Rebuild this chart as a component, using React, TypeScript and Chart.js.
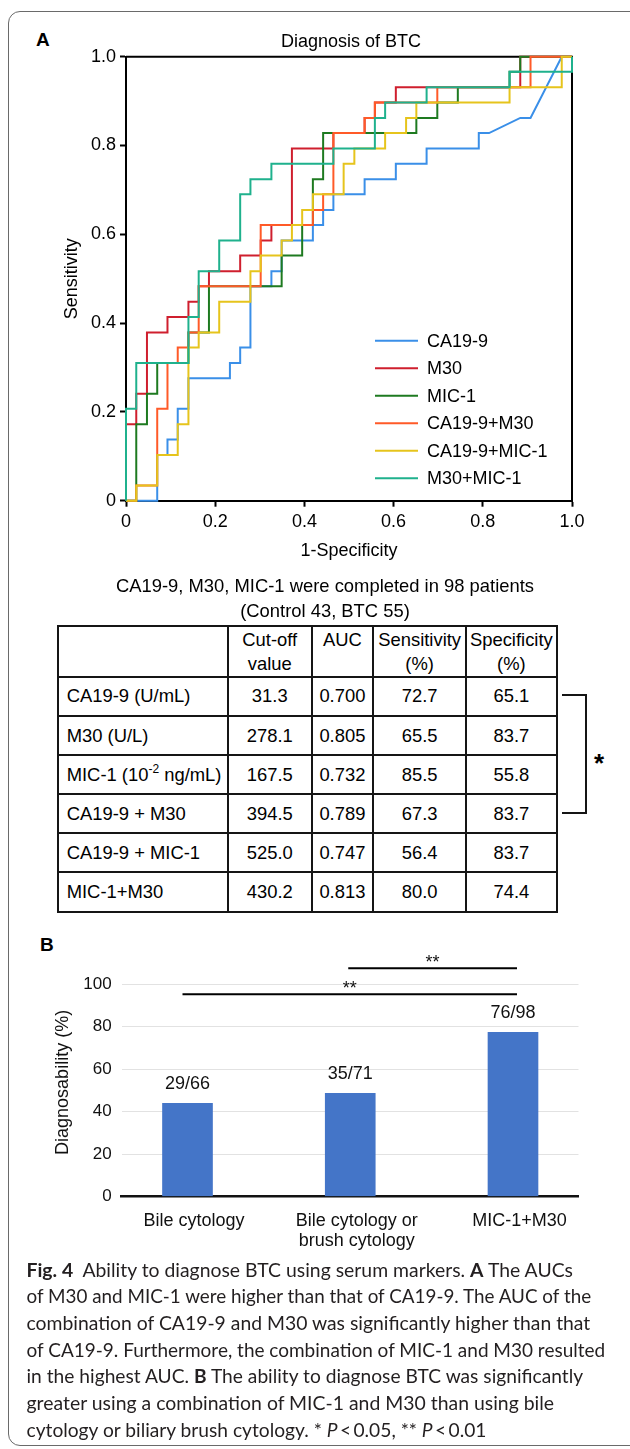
import React, { useEffect, useRef } from 'react';
import { Chart, registerables } from 'chart.js';

Chart.register(...registerables);

const FONT = '"Liberation Sans", Arial, Helvetica, sans-serif';

// ---------------- Panel A : ROC curves ----------------
const rocSeriesNames = ['CA19-9', 'M30', 'MIC-1', 'CA19-9+M30', 'CA19-9+MIC-1', 'M30+MIC-1'];
const rocColors = ['#3a8fe8', '#cf1f2e', '#1e7a20', '#ff5a28', '#e6c41c', '#1fb18d'];

// CA19-9 (polyline vertices)
const ca199Fpr = [0, 0.070, 0.070, 0.093, 0.093, 0.116, 0.116, 0.140, 0.140, 0.233, 0.233, 0.256, 0.256, 0.279, 0.279, 0.326, 0.326, 0.349, 0.349, 0.419, 0.419, 0.442, 0.442, 0.465, 0.465, 0.535, 0.535, 0.605, 0.605, 0.674, 0.674, 0.791, 0.791, 0.814, 0.884, 0.907, 0.977, 1];
const ca199Tpr = [0, 0, 0.103, 0.103, 0.138, 0.138, 0.207, 0.207, 0.276, 0.276, 0.310, 0.310, 0.345, 0.345, 0.483, 0.483, 0.517, 0.517, 0.586, 0.586, 0.621, 0.621, 0.655, 0.655, 0.690, 0.690, 0.724, 0.724, 0.759, 0.759, 0.793, 0.793, 0.828, 0.828, 0.862, 0.862, 1, 1];

// Step curves (points at the top of each rise)
const m30Fpr = [0, 0, 0.023, 0.047, 0.093, 0.140, 0.163, 0.186, 0.256, 0.302, 0.326, 0.372, 0.465, 0.535, 0.558, 0.605, 0.884, 1];
const m30Tpr = [0, 0.172, 0.241, 0.379, 0.414, 0.448, 0.483, 0.517, 0.552, 0.586, 0.621, 0.793, 0.828, 0.862, 0.897, 0.931, 1, 1];
const mic1Fpr = [0, 0.023, 0.047, 0.070, 0.140, 0.186, 0.349, 0.395, 0.419, 0.442, 0.651, 0.698, 0.744, 0.860, 0.884, 1];
const mic1Tpr = [0, 0.172, 0.241, 0.310, 0.379, 0.483, 0.552, 0.621, 0.724, 0.828, 0.862, 0.897, 0.931, 0.966, 1, 1];
const ca199M30Fpr = [0, 0.023, 0.070, 0.093, 0.116, 0.140, 0.163, 0.302, 0.419, 0.442, 0.465, 0.535, 0.558, 0.698, 0.907, 1];
const ca199M30Tpr = [0, 0.034, 0.207, 0.310, 0.345, 0.379, 0.483, 0.621, 0.655, 0.690, 0.828, 0.862, 0.897, 0.931, 1, 1];
const ca199Mic1Fpr = [0, 0.023, 0.070, 0.116, 0.140, 0.163, 0.209, 0.279, 0.302, 0.349, 0.372, 0.395, 0.419, 0.488, 0.512, 0.581, 0.628, 0.651, 0.860, 0.977, 1];
const ca199Mic1Tpr = [0, 0.034, 0.103, 0.172, 0.345, 0.379, 0.448, 0.517, 0.552, 0.586, 0.621, 0.655, 0.690, 0.759, 0.793, 0.828, 0.862, 0.897, 0.931, 1, 1];
const m30Mic1Fpr = [0, 0, 0.023, 0.140, 0.163, 0.209, 0.256, 0.279, 0.326, 0.465, 0.558, 0.581, 0.674, 0.860, 1];
const m30Mic1Tpr = [0, 0.207, 0.310, 0.414, 0.517, 0.586, 0.690, 0.724, 0.759, 0.793, 0.862, 0.897, 0.931, 0.966, 1];

const rocTickValues = [0, 0.2, 0.4, 0.6, 0.8, 1.0];
const rocTickLabels = ['0', '0.2', '0.4', '0.6', '0.8', '1.0'];

// ---------------- Table ----------------
const tableHeaders = ['', 'Cut-off\nvalue', 'AUC', 'Sensitivity\n(%)', 'Specificity\n(%)'];
const rowLabels = ['CA19-9 (U/mL)', 'M30 (U/L)', 'MIC-1 (10{-2} ng/mL)', 'CA19-9 + M30', 'CA19-9 + MIC-1', 'MIC-1+M30'];
const cutoffValues = ['31.3', '278.1', '167.5', '394.5', '525.0', '430.2'];
const aucValues = ['0.700', '0.805', '0.732', '0.789', '0.747', '0.813'];
const sensitivityValues = ['72.7', '65.5', '85.5', '67.3', '56.4', '80.0'];
const specificityValues = ['65.1', '83.7', '55.8', '83.7', '83.7', '74.4'];

// ---------------- Panel B : bars ----------------
const barCategories = [['Bile cytology'], ['Bile cytology or', 'brush cytology'], ['MIC-1+M30']];
const barPositions = [1, 2, 3];
const barValues = [43.9, 48.6, 77.4];
const barLabels = ['29/66', '35/71', '76/98'];
const barTicks = [0, 20, 40, 60, 80, 100];
const sigPairs = [
  { from: 0, to: 2, label: '**' },
  { from: 1, to: 2, label: '**' },
];

// ---------------- Caption ----------------
const captionLines: [string, string][][] = [
  [['b', 'Fig. 4'], ['r', '  Ability to diagnose BTC using serum markers. '], ['b', 'A'], ['r', ' The AUCs']],
  [['r', 'of M30 and MIC-1 were higher than that of CA19-9. The AUC of the']],
  [['r', 'combination of CA19-9 and M30 was significantly higher than that']],
  [['r', 'of CA19-9. Furthermore, the combination of MIC-1 and M30 resulted']],
  [['r', 'in the highest AUC. '], ['b', 'B'], ['r', ' The ability to diagnose BTC was significantly']],
  [['r', 'greater using a combination of MIC-1 and M30 than using bile']],
  [['r', 'cytology or biliary brush cytology. * '], ['i', 'P'], ['r', '\u2009<\u20090.05, ** '], ['i', 'P'], ['r', '\u2009<\u20090.01']],
];
const captionLineWidths = [546.5, 564.6, 563.8, 578.6, 556.6, 527.6, 460];

const pts = (xs: number[], ys: number[]) => xs.map((x, i) => ({ x, y: ys[i] }));

function RocChart() {
  const ref = useRef<HTMLCanvasElement>(null);
  useEffect(() => {
    const series = [
      { x: ca199Fpr, y: ca199Tpr, stepped: false, order: 6 },
      { x: m30Fpr, y: m30Tpr, stepped: 'before', order: 5 },
      { x: mic1Fpr, y: mic1Tpr, stepped: 'before', order: 4 },
      { x: ca199M30Fpr, y: ca199M30Tpr, stepped: 'before', order: 3 },
      { x: ca199Mic1Fpr, y: ca199Mic1Tpr, stepped: 'before', order: 2 },
      { x: m30Mic1Fpr, y: m30Mic1Tpr, stepped: 'before', order: 1 },
    ];
    const decor = {
      id: 'rocDecor',
      beforeDatasetsDraw(chart: any) {
        const { ctx, chartArea: a } = chart;
        ctx.save();
        ctx.strokeStyle = '#000';
        ctx.lineWidth = 2;
        ctx.beginPath();
        ctx.moveTo(a.left, a.top);
        ctx.lineTo(a.right, a.top);
        ctx.lineTo(a.right, a.bottom);
        ctx.stroke();
        ctx.restore();
      },
      afterDraw(chart: any) {
        const { ctx, chartArea: a } = chart;
        ctx.save();
        ctx.fillStyle = '#000';
        ctx.font = `18px ${FONT}`;
        ctx.textAlign = 'center';
        ctx.textBaseline = 'alphabetic';
        ctx.fillText('Diagnosis of BTC', (a.left + a.right) / 2 + 2, a.top - 10);
        ctx.textAlign = 'left';
        ctx.textBaseline = 'middle';
        rocSeriesNames.forEach((name, i) => {
          const y = a.bottom - 160 + i * 27.5;
          ctx.strokeStyle = rocColors[i];
          ctx.lineWidth = 2;
          ctx.beginPath();
          ctx.moveTo(a.left + 249, y);
          ctx.lineTo(a.left + 292, y);
          ctx.stroke();
          ctx.fillText(name, a.left + 301, y + 1);
        });
        ctx.restore();
      },
    };
    const chart = new Chart(ref.current!, {
      type: 'line',
      data: {
        datasets: series.map((s, i) => ({
          label: rocSeriesNames[i],
          data: pts(s.x, s.y),
          borderColor: rocColors[i],
          backgroundColor: rocColors[i],
          borderWidth: 2,
          pointRadius: 0,
          fill: false,
          tension: 0,
          stepped: s.stepped as any,
          order: s.order,
          clip: 6,
          borderJoinStyle: 'miter',
        })),
      },
      options: {
        responsive: false,
        animation: false,
        events: [],
        layout: { padding: { left: 0, top: 56.7, right: 58, bottom: 0 } },
        plugins: { legend: { display: false }, tooltip: { enabled: false }, title: { display: false } },
        scales: {
          x: {
            type: 'linear',
            min: 0,
            max: 1,
            afterBuildTicks: (s: any) => { s.ticks = rocTickValues.map((v) => ({ value: v })); },
            afterFit: (s: any) => { s.height = 79.3; },
            ticks: {
              callback: (_v: any, i: number) => rocTickLabels[i],
              font: { family: FONT, size: 18 },
              color: '#000',
              padding: 5,
              maxRotation: 0,
              autoSkip: false,
            },
            grid: { drawOnChartArea: false, drawTicks: true, tickLength: 6, tickWidth: 2, tickColor: '#000', color: '#000' },
            border: { display: true, color: '#000', width: 2 },
            title: { display: true, text: '1-Specificity', color: '#000', font: { family: FONT, size: 18 }, padding: { top: 0, bottom: 17.7 } },
          },
          y: {
            type: 'linear',
            min: 0,
            max: 1,
            afterBuildTicks: (s: any) => { s.ticks = rocTickValues.map((v) => ({ value: v })); },
            afterFit: (s: any) => { s.width = 126; },
            ticks: {
              callback: (_v: any, i: number) => rocTickLabels[i],
              font: { family: FONT, size: 18 },
              color: '#000',
              padding: 4,
              autoSkip: false,
            },
            grid: { drawOnChartArea: false, drawTicks: true, tickLength: 6, tickWidth: 2, tickColor: '#000', color: '#000' },
            border: { display: true, color: '#000', width: 2 },
            title: { display: true, text: 'Sensitivity', color: '#000', font: { family: FONT, size: 18 }, padding: { top: 61.2, bottom: 0 } },
          },
        },
      },
      plugins: [decor],
    } as any);
    return () => chart.destroy();
  }, []);
  return <canvas ref={ref} width={630} height={580} style={{ position: 'absolute', left: 0, top: 0, width: 630, height: 580 }} />;
}

function BarChart() {
  const ref = useRef<HTMLCanvasElement>(null);
  useEffect(() => {
    const decor = {
      id: 'barDecor',
      afterDraw(chart: any) {
        const { ctx, chartArea: a, scales } = chart;
        const meta = chart.getDatasetMeta(0);
        ctx.save();
        ctx.fillStyle = '#111';
        ctx.font = `18px ${FONT}`;
        ctx.textAlign = 'center';
        ctx.textBaseline = 'middle';
        meta.data.forEach((bar: any, i: number) => {
          ctx.fillText(barLabels[i], bar.x, bar.y - 19.5);
        });
        // y-axis title
        ctx.save();
        ctx.translate(a.left - 58.7, (a.top + a.bottom) / 2 - 8);
        ctx.rotate(-Math.PI / 2);
        ctx.fillText('Diagnosability (%)', 0, 0);
        ctx.restore();
        // significance brackets
        const levels = [a.top + 10, a.top - 16];
        sigPairs.forEach((p, k) => {
          const x1 = scales.x.getPixelForValue(barPositions[p.from]) - (k === 0 ? 5 : 2);
          const x2 = scales.x.getPixelForValue(barPositions[p.to]) + 4;
          const y = levels[k];
          ctx.strokeStyle = '#000';
          ctx.lineWidth = 2;
          ctx.beginPath();
          ctx.moveTo(x1, y);
          ctx.lineTo(x2, y);
          ctx.stroke();
          ctx.textBaseline = 'alphabetic';
          ctx.fillText(p.label, (x1 + x2) / 2, y - 0.5);
        });
        ctx.restore();
      },
    };
    const chart = new Chart(ref.current!, {
      type: 'bar',
      data: {
        datasets: [{
          data: barValues.map((v, i) => ({ x: barPositions[i], y: v })),
          backgroundColor: '#4475c8',
          borderWidth: 0,
          barThickness: 50,
        }],
      },
      options: {
        responsive: false,
        animation: false,
        events: [],
        layout: { padding: { left: 0, top: 54.3, right: 51.5, bottom: 0 } },
        plugins: { legend: { display: false }, tooltip: { enabled: false } },
        scales: {
          x: {
            type: 'linear',
            offset: false,
            min: 0.5957,
            max: 3.4025,
            afterBuildTicks: (s: any) => { s.ticks = barPositions.map((v) => ({ value: v })); },
            afterFit: (s: any) => { s.height = 63.5; },
            ticks: {
              callback: (_v: any, i: number) => barCategories[i],
              font: { family: FONT, size: 18, lineHeight: 20 / 18 },
              color: '#111',
              padding: 6.8,
              labelOffset: 6.5,
              maxRotation: 0,
              autoSkip: false,
            },
            grid: { display: false, offset: false },
            border: { display: true, color: '#111', width: 2.5 },
          },
          y: {
            min: 0,
            max: 100,
            afterBuildTicks: (s: any) => { s.ticks = barTicks.map((v) => ({ value: v })); },
            afterFit: (s: any) => { s.width = 121.7; },
            ticks: { font: { family: FONT, size: 17 }, color: '#111', padding: 10 },
            grid: { color: '#e2e2e2', lineWidth: 1, drawTicks: false },
            border: { display: false },
          },
        },
      },
      plugins: [decor],
    } as any);
    return () => chart.destroy();
  }, []);
  return <canvas ref={ref} width={630} height={330} style={{ position: 'absolute', left: 0, top: 930, width: 630, height: 330 }} />;
}

function RowLabel({ text }: { text: string }) {
  const m = text.match(/^(.*)\{([^}]*)\}(.*)$/);
  if (!m) return <>{text}</>;
  return (
    <>
      {m[1]}
      <span style={{ fontSize: 12, position: 'relative', top: -8 }}>{m[2]}</span>
      {m[3]}
    </>
  );
}

function StatsTable() {
  const colX = [57.7, 228, 311.5, 373.3, 466, 556.7];
  const rowY = [626, 677.3, 716, 755, 794, 833.3, 872.3, 912.3];
  const line = '#151515';
  const cols = [cutoffValues, aucValues, sensitivityValues, specificityValues];
  const txt: React.CSSProperties = { position: 'absolute', fontFamily: FONT, fontSize: 18.4, color: '#000', whiteSpace: 'pre' };
  const els: React.ReactNode[] = [];
  colX.forEach((x, i) => {
    els.push(<div key={'v' + i} style={{ position: 'absolute', left: x - 1, top: rowY[0] - 1, width: 2, height: rowY[rowY.length - 1] - rowY[0] + 2, background: line }} />);
  });
  rowY.forEach((y, i) => {
    els.push(<div key={'h' + i} style={{ position: 'absolute', left: colX[0] - 1, top: y - 1, width: colX[colX.length - 1] - colX[0] + 2, height: 2, background: line }} />);
  });
  tableHeaders.forEach((h, c) => {
    if (!h) return;
    els.push(
      <div key={'hd' + c} style={{ ...txt, left: colX[c], width: colX[c + 1] - colX[c], top: 628, lineHeight: '24px', textAlign: 'center' }}>{h}</div>
    );
  });
  rowLabels.forEach((lab, r) => {
    const top = rowY[r + 1];
    const h = rowY[r + 2] - rowY[r + 1];
    els.push(
      <div key={'rl' + r} style={{ ...txt, left: colX[0] + 9, top, height: h, lineHeight: h + 'px' }}><RowLabel text={lab} /></div>
    );
    cols.forEach((vals, c) => {
      els.push(
        <div key={'c' + r + '_' + c} style={{ ...txt, left: colX[c + 1], width: colX[c + 2] - colX[c + 1], top, height: h, lineHeight: h + 'px', textAlign: 'center' }}>{vals[r]}</div>
      );
    });
  });
  // significance bracket
  const y1 = (rowY[1] + rowY[2]) / 2 - 1.5;
  const y2 = (rowY[4] + rowY[5]) / 2 - 0.5;
  els.push(<div key="b1" style={{ position: 'absolute', left: 562, top: y1 - 1, width: 25, height: 2, background: line }} />);
  els.push(<div key="b2" style={{ position: 'absolute', left: 585.3, top: y1 - 1, width: 2, height: y2 - y1 + 2, background: line }} />);
  els.push(<div key="b3" style={{ position: 'absolute', left: 562, top: y2 - 1, width: 25, height: 2, background: line }} />);
  els.push(<div key="star" style={{ position: 'absolute', left: 589, top: 749.5, width: 20, textAlign: 'center', fontFamily: FONT, fontWeight: 'bold', fontSize: 26, lineHeight: '26px', color: '#000' }}>*</div>);
  return <>{els}</>;
}

function Caption() {
  return (
    <svg width={630} height={200} style={{ position: 'absolute', left: 0, top: 1250 }}>
      {captionLines.map((segs, i) => (
        <text
          key={i}
          x={26.5}
          y={26.7 + i * 26.67}
          textLength={captionLineWidths[i]}
          lengthAdjust="spacingAndGlyphs"
          xmlSpace="preserve"
          style={{ whiteSpace: 'pre' }}
          fontFamily="Lato, 'Open Sans', sans-serif"
          fontSize={18.5}
          fill="#231f20"
        >
          {segs.map(([k, t], j) => (
            <tspan key={j} fontWeight={k === 'b' ? 'bold' : 'normal'} fontStyle={k === 'i' ? 'italic' : 'normal'}>{t}</tspan>
          ))}
        </text>
      ))}
    </svg>
  );
}

export default function App() {
  return (
    <div style={{ position: 'absolute', left: 0, top: 0, width: 630, height: 1449, overflow: 'hidden', background: '#fff' }}>
      <div style={{ position: 'absolute', left: 8, top: 11, width: 660, height: 1435, border: '1.5px solid #6a6a6a', borderRadius: 12, boxSizing: 'border-box' }} />
      <div style={{ position: 'absolute', left: 36, top: 28, lineHeight: '24px', fontFamily: FONT, fontWeight: 'bold', fontSize: 19, color: '#000' }}>A</div>
      <RocChart />
      <div style={{ position: 'absolute', left: 10, width: 630, top: 572.5, textAlign: 'center', fontFamily: FONT, fontSize: 18.4, lineHeight: '25px', color: '#000' }}>
        CA19-9, M30, MIC-1 were completed in 98 patients<br />(Control 43, BTC 55)
      </div>
      <StatsTable />
      <div style={{ position: 'absolute', left: 40, top: 933, lineHeight: '24px', fontFamily: FONT, fontWeight: 'bold', fontSize: 19, color: '#000' }}>B</div>
      <BarChart />
      <Caption />
    </div>
  );
}
